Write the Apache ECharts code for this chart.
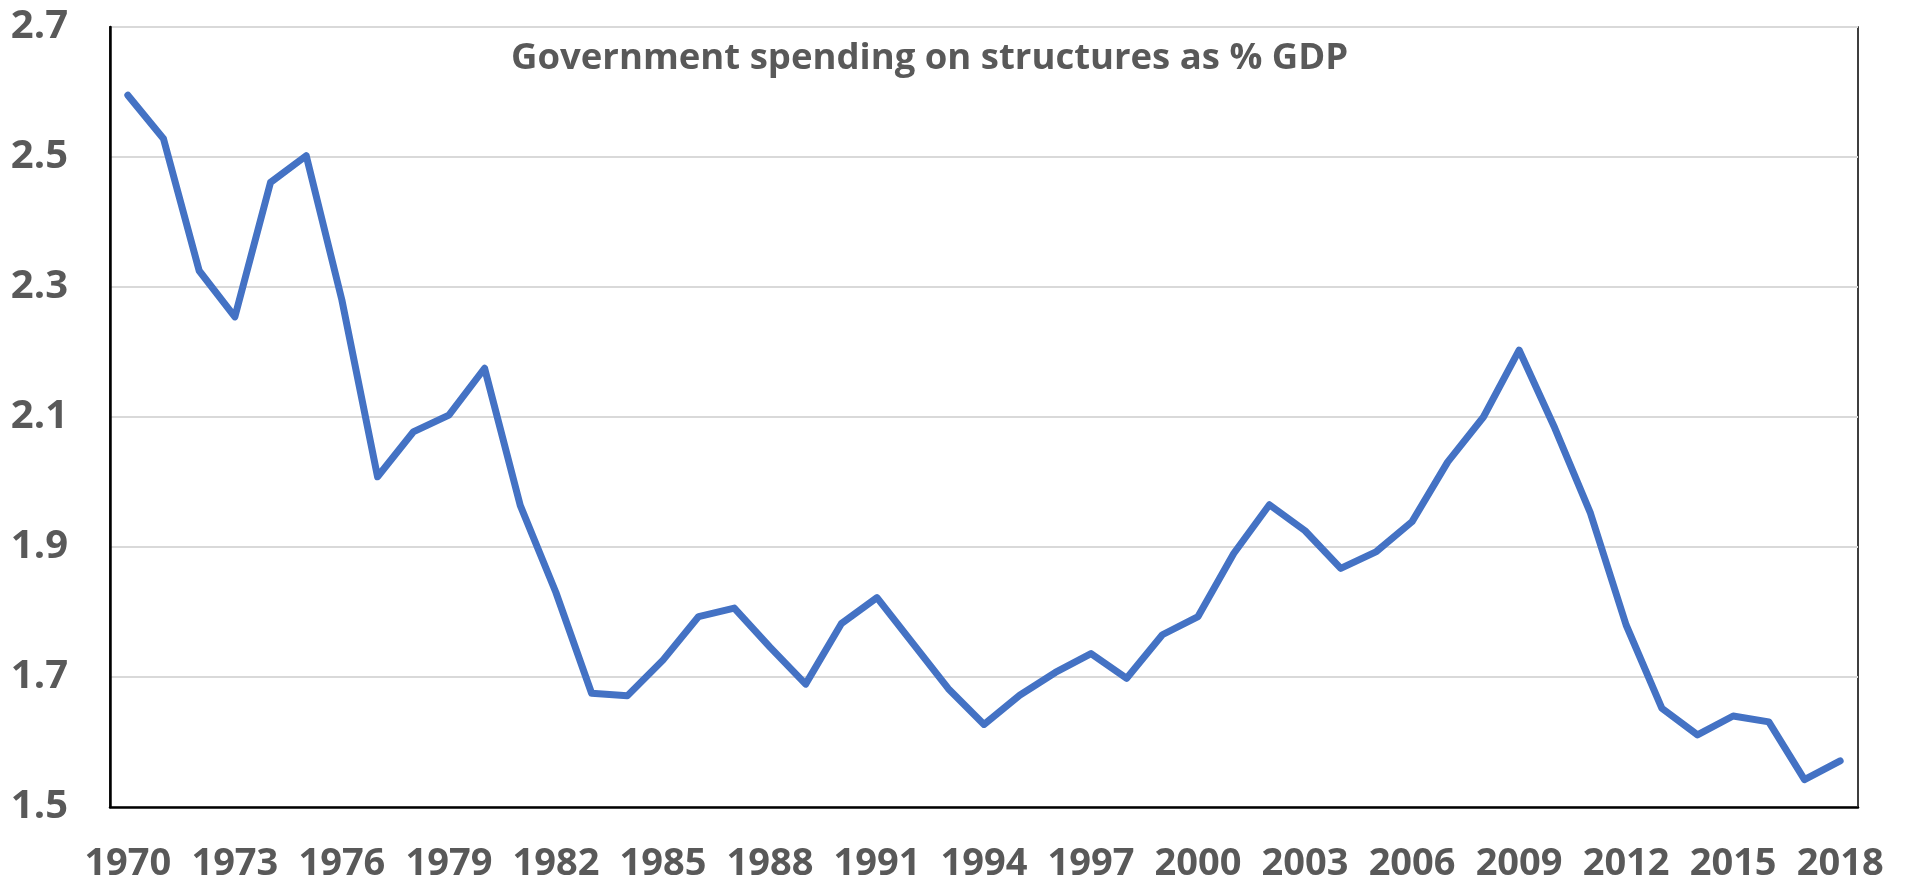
<!DOCTYPE html>
<html>
<head>
<meta charset="utf-8">
<script src="https://cdn.jsdelivr.net/npm/echarts@6/dist/echarts.min.js"></script>
<style>
	html, body { margin: 0; padding: 0; background: #fff; }
	#chart { width: 1908px; height: 884px; }
</style>
</head>
<body>
<div id="chart"></div>
<script>
var years = [];
for (var y = 1970; y <= 2018; y++) {
	years.push(String(y));
}
// spending on structures, % of GDP
var spending = [
	2.595, 2.528, 2.325, 2.254, 2.461, 2.502, 2.28, 2.008, 2.077, 2.103,
	2.175, 1.964, 1.83, 1.675, 1.671, 1.726, 1.793, 1.806, 1.746, 1.689,
	1.782, 1.822, 1.752, 1.682, 1.627, 1.672, 1.707, 1.736, 1.698, 1.765,
	1.793, 1.89, 1.965, 1.925, 1.867, 1.893, 1.939, 2.031, 2.1, 2.203,
	2.083, 1.952, 1.78, 1.652, 1.611, 1.64, 1.631, 1.542, 1.571
];
var yTicks = [1.5, 1.7, 1.9, 2.1, 2.3, 2.5, 2.7];
var titleText = 'Government spending on structures as % GDP';

var textGrey = '#595959';
var font = 'Open Sans';

var myChart = echarts.init(document.getElementById('chart'));
myChart.setOption({
	animation: false,
	title: {
		text: titleText,
		left: 506,
		top: 35,
		textStyle: {
			color: textGrey,
			fontFamily: font,
			fontWeight: 'bold',
			fontSize: 36.5
		}
	},
	grid: {
		left: 110,
		right: 50,
		top: 27,
		bottom: 77,
		show: true,
		borderColor: '#000',
		borderWidth: 1.5,
		backgroundColor: '#fff'
	},
	xAxis: {
		type: 'category',
		data: years,
		boundaryGap: true,
		axisLine: {
			lineStyle: {
				color: '#000',
				width: 2.5
			}
		},
		axisTick: {
			show: false
		},
		axisLabel: {
			interval: 2,
			margin: 38,
			color: textGrey,
			fontFamily: font,
			fontWeight: 'bold',
			fontSize: 38
		}
	},
	yAxis: {
		type: 'value',
		min: yTicks[0],
		max: yTicks[yTicks.length - 1],
		interval: 0.2,
		axisLine: {
			show: true,
			lineStyle: {
				color: '#000',
				width: 2.5
			}
		},
		axisTick: {
			show: false
		},
		axisLabel: {
			margin: 42,
			color: textGrey,
			fontFamily: font,
			fontWeight: 'bold',
			fontSize: 40,
			formatter: function(value) {
				return value.toFixed(1);
			}
		},
		splitLine: {
			lineStyle: {
				color: '#d9d9d9',
				width: 2
			}
		}
	},
	series: [{
		type: 'line',
		data: spending,
		symbol: 'none',
		lineStyle: {
			color: '#4472c4',
			width: 7,
			cap: 'round',
			join: 'round'
		}
	}]
});
</script>
</body>
</html>
